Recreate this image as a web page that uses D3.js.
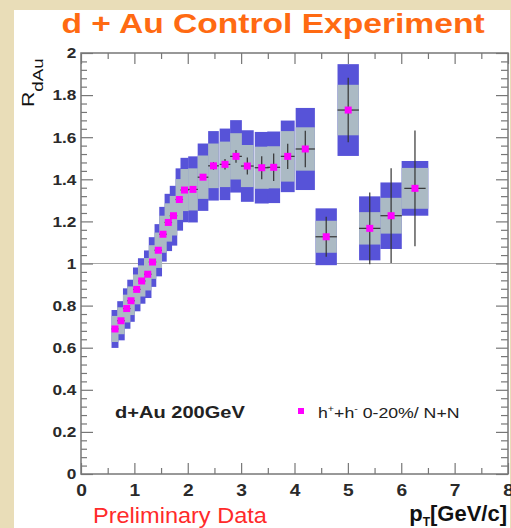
<!DOCTYPE html>
<html><head><meta charset="utf-8">
<script src="https://cdn.jsdelivr.net/npm/d3@7"></script>
<style>html,body{margin:0;padding:0;background:#fff;} svg{display:block;font-family:"Liberation Sans",Arial,sans-serif;}</style>
</head><body>
<svg id="c" width="511" height="528"></svg>
<script>
// ---- data ----
const pt       = [0.637,0.749,0.856,0.937,1.044,1.137,1.25,1.34,1.448,1.536,1.636,1.733,1.842,1.939,2.098,2.286,2.482,2.698,2.904,3.116,3.386,3.61,3.873,4.202,4.594,5.006,5.41,5.81,6.257];
const rdau     = [0.689,0.728,0.786,0.823,0.877,0.917,0.949,1.007,1.063,1.139,1.195,1.227,1.304,1.349,1.352,1.41,1.464,1.471,1.509,1.463,1.455,1.457,1.509,1.544,1.127,1.729,1.167,1.227,1.357];
const statErr  = [0.008,0.008,0.008,0.008,0.008,0.008,0.008,0.008,0.008,0.008,0.008,0.008,0.008,0.008,0.01,0.012,0.018,0.025,0.03,0.04,0.055,0.065,0.06,0.087,0.095,0.153,0.17,0.225,0.275];
const sysInner = [0.062,0.064,0.066,0.068,0.071,0.074,0.077,0.08,0.084,0.088,0.091,0.094,0.097,0.1,0.1,0.103,0.106,0.108,0.11,0.1,0.1,0.1,0.12,0.103,0.076,0.12,0.077,0.085,0.097];
const sysOuter = [0.09,0.093,0.096,0.1,0.104,0.108,0.113,0.118,0.124,0.13,0.136,0.142,0.148,0.153,0.157,0.16,0.165,0.17,0.172,0.17,0.17,0.17,0.17,0.195,0.135,0.218,0.152,0.158,0.13];
const binHalf  = [0.065,0.07,0.07,0.07,0.07,0.07,0.07,0.07,0.07,0.07,0.07,0.07,0.07,0.075,0.09,0.1,0.1,0.1,0.11,0.12,0.13,0.12,0.13,0.18,0.2,0.2,0.2,0.2,0.25];

const xTicks = [0,1,2,3,4,5,6,7,8];
const xTickLabels = ["0","1","2","3","4","5","6","7","8"];
const yTicks = [0,0.2,0.4,0.6,0.8,1,1.2,1.4,1.6,1.8,2];
const yTickLabels = ["0","0.2","0.4","0.6","0.8","1","1.2","1.4","1.6","1.8","2"];

// ---- drawing ----
const svg = d3.select("#c");
svg.append("rect").attr("width",511).attr("height",528).attr("fill","#e9ddb8");
svg.append("rect").attr("x",14).attr("y",10).attr("width",496).attr("height",518).attr("fill","#fff");

const x = d3.scaleLinear().domain([0,8]).range([81,508]);
const y = d3.scaleLinear().domain([0,2]).range([474,53]);
const data = pt.map((p,i)=>({x:p,y:rdau[i],s:statErr[i],gi:sysInner[i],go:sysOuter[i],w:binHalf[i]}));

// reference line at 1
svg.append("line").attr("x1",x(0)).attr("x2",x(8)).attr("y1",y(1)).attr("y2",y(1))
  .attr("stroke","#a8a8a8").attr("stroke-width",1);

// outer systematic boxes
svg.append("g").selectAll("rect").data(data).join("rect")
  .attr("x",d=>x(d.x-d.w)).attr("width",d=>x(d.x+d.w)-x(d.x-d.w))
  .attr("y",d=>y(d.y+d.go)).attr("height",d=>y(d.y-d.go)-y(d.y+d.go))
  .attr("fill","#5753d8");
// inner systematic boxes
svg.append("g").selectAll("rect").data(data).join("rect")
  .attr("x",d=>x(d.x-d.w)).attr("width",d=>x(d.x+d.w)-x(d.x-d.w))
  .attr("y",d=>y(d.y+d.gi)).attr("height",d=>y(d.y-d.gi)-y(d.y+d.gi))
  .attr("fill","#abbac4");

// statistical error bars
const eb = svg.append("g").attr("stroke","#333").attr("stroke-width",1.2);
eb.selectAll("line.v").data(data).join("line").attr("class","v")
  .attr("x1",d=>x(d.x)).attr("x2",d=>x(d.x))
  .attr("y1",d=>y(d.y+d.s)).attr("y2",d=>y(d.y-d.s));
eb.selectAll("line.h").data(data).join("line").attr("class","h")
  .attr("x1",d=>x(d.x-Math.min(d.w,0.2))).attr("x2",d=>x(d.x+Math.min(d.w,0.2)))
  .attr("y1",d=>y(d.y)).attr("y2",d=>y(d.y));

// markers
svg.append("g").selectAll("rect").data(data).join("rect")
  .attr("x",d=>x(d.x)-3.5).attr("y",d=>y(d.y)-3.5).attr("width",7).attr("height",7)
  .attr("fill","#ff00ff");

// axes
const tickColor = "#777";
function styleAxis(g){
  g.select(".domain").remove();
  g.selectAll("line").attr("stroke",tickColor).attr("stroke-width",1.2);
}
const xMinor = d3.range(0,8.0001,0.5).filter(v=>Math.abs(v-Math.round(v))>1e-6);
const yMinor = d3.range(0,2.0001,0.04).filter(v=>Math.abs(v*5-Math.round(v*5))>1e-6);

// bottom
svg.append("g").attr("transform",`translate(0,${y(0)})`)
  .call(d3.axisBottom(x).tickValues(xTicks).tickFormat((d,i)=>xTickLabels[i]).tickSize(-11).tickPadding(11))
  .call(styleAxis)
  .call(g=>g.selectAll("text").attr("font-size",16).attr("font-weight","bold").attr("fill","#2a2a2a")
        .attr("font-family","'Liberation Sans',Arial,sans-serif").attr("transform","scale(1.2,1)"));
svg.append("g").attr("transform",`translate(0,${y(0)})`)
  .call(d3.axisBottom(x).tickValues(xMinor).tickFormat("").tickSize(-6)).call(styleAxis);
// top
svg.append("g").attr("transform",`translate(0,${y(2)})`)
  .call(d3.axisTop(x).tickValues(xTicks).tickFormat("").tickSize(-11)).call(styleAxis);
svg.append("g").attr("transform",`translate(0,${y(2)})`)
  .call(d3.axisTop(x).tickValues(xMinor).tickFormat("").tickSize(-6)).call(styleAxis);
// left
svg.append("g").attr("transform",`translate(${x(0)},0)`)
  .call(d3.axisLeft(y).tickValues(yTicks).tickFormat((d,i)=>yTickLabels[i]).tickSize(-12).tickPadding(4))
  .call(styleAxis)
  .call(g=>g.selectAll("text").attr("font-size",15).attr("font-weight","bold").attr("fill","#2a2a2a")
        .attr("font-family","'Liberation Sans',Arial,sans-serif").attr("transform","scale(1.15,1)"));
svg.append("g").attr("transform",`translate(${x(0)},0)`)
  .call(d3.axisLeft(y).tickValues(yMinor).tickFormat("").tickSize(-6)).call(styleAxis);
// right
svg.append("g").attr("transform",`translate(${x(8)},0)`)
  .call(d3.axisRight(y).tickValues(yTicks).tickFormat("").tickSize(-12)).call(styleAxis);
svg.append("g").attr("transform",`translate(${x(8)},0)`)
  .call(d3.axisRight(y).tickValues(yMinor).tickFormat("").tickSize(-7)).call(styleAxis);

// frame
svg.append("rect").attr("x",x(0)).attr("y",y(2)).attr("width",x(8)-x(0)).attr("height",y(0)-y(2))
  .attr("fill","none").attr("stroke",tickColor).attr("stroke-width",1.5);

// title
svg.append("text").attr("transform","translate(273,33) scale(1.2,1)")
  .attr("text-anchor","middle").attr("font-size",28).attr("font-weight","bold").attr("fill","#ff6a12")
  .text("d + Au Control Experiment");

// y axis title
const yt = svg.append("text").attr("transform","translate(34,107) rotate(-90) scale(1.25,1)")
  .attr("font-size",17).attr("fill","#111");
yt.append("tspan").text("R");
yt.append("tspan").attr("font-size",15).attr("dy",9).text("dAu");

// x axis title
const xt = svg.append("text").attr("transform","translate(507,521)")
  .attr("text-anchor","end").attr("font-size",22).attr("font-weight","bold").attr("fill","#111");
xt.append("tspan").text("p");
xt.append("tspan").attr("font-size",12).attr("dy",5).text("T");
xt.append("tspan").attr("dy",-5).text("[GeV/c]");

// preliminary
svg.append("text").attr("transform","translate(93,523) scale(1.07,1)")
  .attr("font-size",22).attr("fill","#ff2a2a").text("Preliminary Data");

// legend
svg.append("text").attr("transform","translate(115,418) scale(1.18,1)")
  .attr("font-size",17).attr("font-weight","bold").attr("fill","#222").text("d+Au 200GeV");
svg.append("rect").attr("x",298).attr("y",408).attr("width",6).attr("height",6).attr("fill","#ff00ff");
const lt = svg.append("text").attr("transform","translate(318,418) scale(1.18,1)")
  .attr("font-size",15).attr("fill","#222");
lt.append("tspan").text("h");
lt.append("tspan").attr("font-size",9).attr("dy",-6).text("+");
lt.append("tspan").attr("dy",6).text("+h");
lt.append("tspan").attr("font-size",9).attr("dy",-6).text("-");
lt.append("tspan").attr("dy",6).text(" 0-20%/ N+N");
</script>
</body></html>
